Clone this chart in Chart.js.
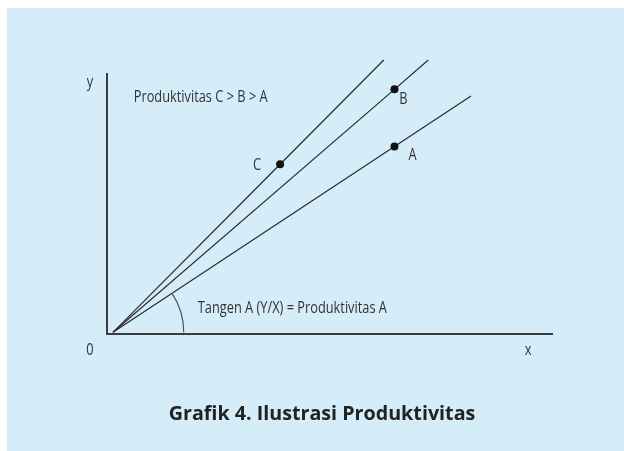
<!DOCTYPE html>
<html>
<head>
<meta charset="utf-8">
<script src="https://cdn.jsdelivr.net/npm/chart.js@4"></script>
<style>
  html, body { margin: 0; padding: 0; background: #ffffff; }
  #wrap { position: relative; width: 624px; height: 451px; }
  #panel { position: absolute; left: 7px; top: 8px; right: 0; bottom: 0; background: #d5ecf9; }
  #chart { position: absolute; left: 0; top: 0; }
</style>
</head>
<body>
<div id="wrap">
  <div id="panel"></div>
  <canvas id="chart" width="624" height="451"></canvas>
</div>
<script>
// ── data ──────────────────────────────────────────────────────────────────────
// Three productivity rays from the origin, each with a marked point.
const seriesNames = ['A', 'B', 'C'];
const startX      = 1.35;
const startY      = 0.65;
const markX       = [64.6, 64.6, 38.9];
const markY       = [72.1, 94.1, 65.3];
const endX        = [81.8, 72.2, 62.2];
const endY        = [91.5, 105.4, 105.4];

const axisMax     = 100;
const arcRadius   = 15.9;   // in x units

const titleText   = 'Grafik 4. Ilustrasi Produktivitas';
const noteTop     = 'Produktivitas C > B > A';
const noteBottom  = 'Tangen A (Y/X) = Produktivitas A';
const noteTopAt   = { x: 6.0, y: 89.3 };
const noteBotAt   = { x: 20.4, y: 8.0 };

const LABEL_FONT = '16px "Open Sans", sans-serif';
const SQUEEZE    = 0.8;   // condensed look of the label face
const INK        = '#2b2b2b';

// pixel offsets of the letter next to each marked point
const markLabelOffset = { A: [18, 9], B: [9, 10], C: [-23, 1] };

function narrowText(ctx, text, px, py) {
  ctx.save();
  ctx.translate(px, py);
  ctx.scale(SQUEEZE, 1);
  ctx.fillText(text, 0, 0);
  ctx.restore();
}

// ── text + angle arc ──────────────────────────────────────────────────────────
const decorPlugin = {
  id: 'decor',
  afterDatasetsDraw(chart) {
    const { ctx, chartArea: ca, scales: { x, y } } = chart;
    const ox = x.getPixelForValue(startX);
    const oy = y.getPixelForValue(startY);

    // angle arc of line A
    const ax = x.getPixelForValue(markX[0]);
    const ay = y.getPixelForValue(markY[0]);
    const ang = Math.atan2(oy - ay, ax - ox);
    const r = x.getPixelForValue(arcRadius) - x.getPixelForValue(0);
    ctx.save();
    ctx.strokeStyle = '#4a4a4a';
    ctx.lineWidth = 1.1;
    ctx.beginPath();
    ctx.arc(ox, oy, r, -ang, 0);
    ctx.stroke();

    ctx.fillStyle = '#333333';
    ctx.font = LABEL_FONT;

    // point letters
    ctx.textAlign = 'center';
    ctx.textBaseline = 'middle';
    seriesNames.forEach((n, i) => {
      const px = x.getPixelForValue(markX[i]);
      const py = y.getPixelForValue(markY[i]);
      const [dx, dy] = markLabelOffset[n];
      narrowText(ctx, n, px + dx, py + dy);
    });

    // axis letters
    narrowText(ctx, 'y', ca.left - 17, ca.top + 8);
    narrowText(ctx, '0', ca.left - 17, ca.bottom + 16);
    narrowText(ctx, 'x', ca.right - 24, ca.bottom + 16);

    // notes
    ctx.textAlign = 'left';
    ctx.textBaseline = 'alphabetic';
    narrowText(ctx, noteTop, x.getPixelForValue(noteTopAt.x), y.getPixelForValue(noteTopAt.y));
    narrowText(ctx, noteBottom, x.getPixelForValue(noteBotAt.x), y.getPixelForValue(noteBotAt.y));

    // caption
    ctx.fillStyle = '#222222';
    ctx.font = 'bold 19.7px "Open Sans", sans-serif';
    ctx.textAlign = 'center';
    ctx.fillText(titleText, 322, 420);
    ctx.restore();
  },
};

// ── chart ─────────────────────────────────────────────────────────────────────
const datasets = seriesNames.map((n, i) => ({
  label: n,
  data: [
    { x: startX,   y: startY },
    { x: markX[i], y: markY[i] },
    { x: endX[i],  y: endY[i] },
  ],
  showLine: true,
  borderColor: INK,
  borderWidth: 1.2,
  pointRadius: [0, 4, 0],
  pointBackgroundColor: '#111111',
  pointBorderWidth: 0,
  clip: false,
}));

const axisStyle = {
  type: 'linear',
  min: 0,
  max: axisMax,
  grid: { display: false, drawTicks: false },
  ticks: { display: false },
  border: { display: true, color: '#3c3c3c', width: 2 },
};

new Chart(document.getElementById('chart'), {
  type: 'scatter',
  data: { datasets },
  options: {
    responsive: false,
    animation: false,
    layout: { padding: { left: 107, right: 72, top: 74, bottom: 117 } },
    plugins: {
      legend:  { display: false },
      tooltip: { enabled: false },
    },
    scales: {
      x: { ...axisStyle },
      y: { ...axisStyle },
    },
  },
  plugins: [decorPlugin],
});
</script>
</body>
</html>
